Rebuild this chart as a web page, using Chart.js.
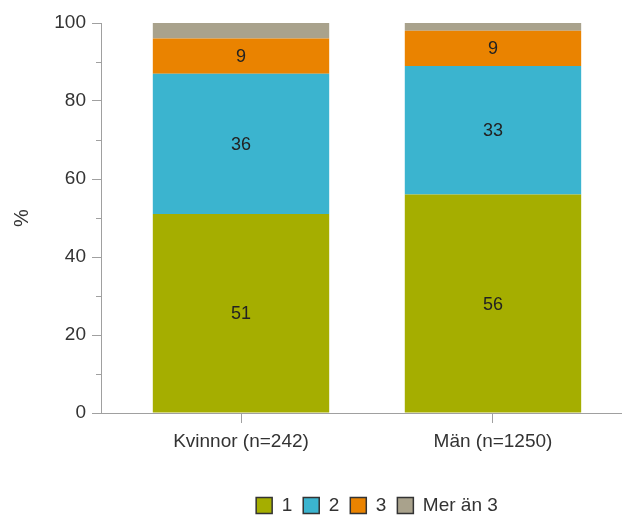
<!DOCTYPE html>
<html>
<head>
<meta charset="utf-8">
<script src="https://cdn.jsdelivr.net/npm/chart.js@4.4.1/dist/chart.umd.min.js"></script>
<style>
  html, body { margin: 0; padding: 0; background: #fff; }
  #c { display: block; }
</style>
</head>
<body>
<canvas id="c" width="622" height="517"></canvas>
<script>
// Share of respondents by number, split by sex (percent)
const categories = ['Kvinnor (n=242)', 'Män (n=1250)'];
const seriesNames = ['1', '2', '3', 'Mer än 3'];
const series1 = [51, 56];
const series2 = [36, 33];
const series3 = [9, 9];
const seriesMore = [4, 2];
const yTicks = [0, 20, 40, 60, 80, 100];
const yMinorTicks = [10, 30, 50, 70, 90];
const labelledSeries = ['1', '2', '3'];

const colors = ['#a5ae00', '#3bb4cf', '#ea8300', '#a9a28c'];
const axisColor = '#a0a0a0';
const FONT = "'Liberation Sans', Arial, sans-serif";
const legendShift = 66;

Chart.defaults.font.family = FONT;
Chart.defaults.font.size = 19;
Chart.defaults.color = '#333';

const toPoints = vals => vals.map((v, i) => ({ x: i, y: v }));

const datasets = [series1, series2, series3, seriesMore].map((vals, k) => ({
  label: seriesNames[k],
  data: toPoints(vals),
  backgroundColor: colors[k],
  borderWidth: 0,
  barPercentage: 0.7,
  categoryPercentage: 1
}));

// Value written in the middle of each labelled segment
const valueLabels = {
  id: 'valueLabels',
  afterDatasetsDraw(chart) {
    const ctx = chart.ctx;
    ctx.save();
    ctx.font = '18px ' + FONT;
    ctx.fillStyle = '#222';
    ctx.textAlign = 'center';
    ctx.textBaseline = 'middle';
    chart.data.datasets.forEach((ds, di) => {
      if (!labelledSeries.includes(ds.label)) return;
      chart.getDatasetMeta(di).data.forEach((bar, i) => {
        const { x, y, base } = bar.getProps(['x', 'y', 'base'], true);
        ctx.fillText(String(ds.data[i].y), x, (y + base) / 2 + 1);
      });
    });
    ctx.restore();
  }
};

// Short unlabelled ticks between the labelled ones on the value axis
const minorTicks = {
  id: 'minorTicks',
  afterDraw(chart) {
    const s = chart.scales.y;
    const ctx = chart.ctx;
    ctx.save();
    ctx.strokeStyle = axisColor;
    ctx.lineWidth = 1;
    yMinorTicks.forEach(v => {
      const py = Math.round(s.getPixelForValue(v)) + 0.5;
      ctx.beginPath();
      ctx.moveTo(s.right - 5, py);
      ctx.lineTo(s.right, py);
      ctx.stroke();
    });
    ctx.restore();
  }
};

// Nudge the legend row to the right of the canvas centre
const legendOffset = {
  id: 'legendOffset',
  afterLayout(chart) {
    if (chart.legend) {
      chart.legend.left += legendShift;
      chart.legend.right += legendShift;
    }
  }
};

new Chart(document.getElementById('c'), {
  type: 'bar',
  data: { datasets },
  plugins: [valueLabels, minorTicks, legendOffset],
  options: {
    responsive: false,
    animation: false,
    devicePixelRatio: 1,
    layout: { padding: { top: 23, right: 0, bottom: -8, left: 0 } },
    plugins: {
      tooltip: { enabled: false },
      legend: {
        position: 'bottom',
        labels: {
          boxWidth: 16,
          boxHeight: 16,
          padding: 11,
          color: '#333',
          font: { size: 19 },
          generateLabels: chart =>
            Chart.defaults.plugins.legend.labels.generateLabels(chart)
              .map(it => ({ ...it, strokeStyle: '#333', lineWidth: 1.5 }))
        }
      }
    },
    scales: {
      x: {
        type: 'linear',
        stacked: true,
        offset: false,
        min: -0.5556,
        max: 1.512,
        afterBuildTicks: s => { s.ticks = categories.map((_, i) => ({ value: i })); },
        afterFit: s => { s.height = 72; },
        ticks: {
          callback: v => categories[v] ?? '',
          padding: 7,
          autoSkip: false,
          maxRotation: 0,
          color: '#333',
          font: { size: 19 }
        },
        grid: { display: true, offset: false, drawOnChartArea: false, tickLength: 10, color: axisColor },
        border: { color: axisColor, width: 1 }
      },
      y: {
        stacked: true,
        min: 0,
        max: 100,
        afterBuildTicks: s => { s.ticks = yTicks.map(v => ({ value: v })); },
        afterFit: s => { s.width = 101; },
        ticks: { padding: 6, color: '#333', font: { size: 19 } },
        grid: { display: true, drawOnChartArea: false, tickLength: 9, color: axisColor },
        border: { color: axisColor, width: 1 },
        title: {
          display: true,
          text: '%',
          color: '#333',
          font: { size: 20 },
          padding: { top: 10, bottom: 0 }
        }
      }
    }
  }
});
</script>
</body>
</html>
